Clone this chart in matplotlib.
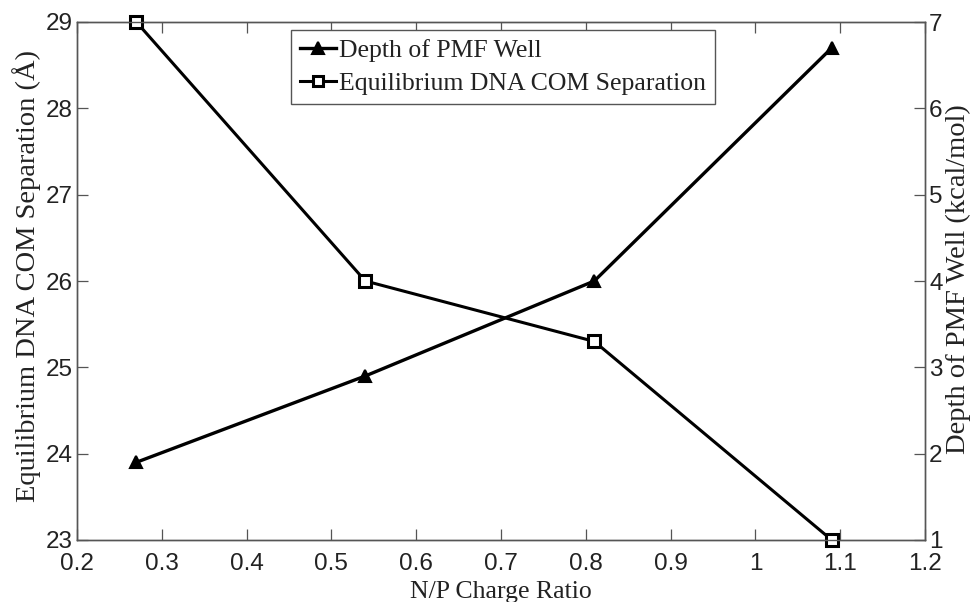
import matplotlib.pyplot as plt
import numpy as np

# N/P charge ratio vs. separation and PMF well depth
np_ratio = [0.27, 0.54, 0.81, 1.09]
separation = [29.0, 26.0, 25.3, 23.0]   # left axis, Angstrom
well_depth = [1.9, 2.9, 4.0, 6.7]      # right axis, kcal/mol

x_ticks = [0.2, 0.3, 0.4, 0.5, 0.6, 0.7, 0.8, 0.9, 1.0, 1.1, 1.2]
x_labels = ['0.2', '0.3', '0.4', '0.5', '0.6', '0.7', '0.8', '0.9', '1', '1.1', '1.2']
left_ticks = [23, 24, 25, 26, 27, 28, 29]
right_ticks = [1, 2, 3, 4, 5, 6, 7]

serif = 'Liberation Serif'
sans = 'Liberation Sans'
spine_col = '#555555'
text_col = '#222222'

fig = plt.figure(figsize=(9.71, 6.02), dpi=100)
ax = fig.add_axes([77 / 971, 62 / 602, 848 / 971, 518 / 602])
ax2 = ax.twinx()

l_sep, = ax.plot(np_ratio, separation, color='black', lw=2.2, marker='s',
                 ms=8, mfc='white', mec='black', mew=2.2,
                 label='Equilibrium DNA COM Separation', clip_on=False, zorder=3)
l_dep, = ax2.plot(np_ratio, well_depth, color='black', lw=2.4, marker='^',
                  ms=9, mfc='black', mec='black', mew=1.5,
                  label='Depth of PMF Well', clip_on=False, zorder=3)

ax.set_xlim(0.2, 1.2)
ax.set_ylim(23, 29)
ax2.set_ylim(1, 7)
ax.set_xticks(x_ticks)
ax.set_xticklabels(x_labels)
ax.set_yticks(left_ticks)
ax2.set_yticks(right_ticks)

for a in (ax, ax2):
    for s in a.spines.values():
        s.set_color(spine_col)
        s.set_linewidth(1.0)

ax.tick_params(axis='x', direction='in', top=True, length=8, width=0.9,
               color=spine_col, pad=9, labelsize=17.5, labelcolor=text_col)
ax.tick_params(axis='y', direction='in', length=8, width=0.9,
               color=spine_col, pad=3, labelsize=17.5, labelcolor=text_col)
ax2.tick_params(axis='y', direction='in', length=8, width=0.9,
                color=spine_col, pad=3, labelsize=17.5, labelcolor=text_col)
for lab in ax.get_xticklabels() + ax.get_yticklabels() + ax2.get_yticklabels():
    lab.set_family(sans)

ax.set_xlabel('N/P Charge Ratio', family=serif, fontsize=18.5, color=text_col)
ax.set_ylabel('Equilibrium DNA COM Separation (Å)', family=serif,
              fontsize=20.5, color=text_col)
ax2.set_ylabel('Depth of PMF Well (kcal/mol)', family=serif,
               fontsize=20.5, color=text_col)
ax.xaxis.set_label_coords(0.5, -0.08)
ax.yaxis.set_label_coords(-0.0425, 0.51)
ax2.yaxis.set_label_coords(1.024, 0.504)

leg = ax.legend(handles=[l_dep, l_sep], loc='upper left',
                bbox_to_anchor=(291 / 971, 1 - 30 / 602),
                bbox_transform=fig.transFigure, borderaxespad=0,
                fancybox=False, edgecolor=spine_col, framealpha=1,
                prop={'family': serif, 'size': 18.5},
                handlelength=1.4, handletextpad=0.1, labelspacing=0.4,
                borderpad=0.35, markerscale=0.9)
leg.get_frame().set_linewidth(1.0)
for t in leg.get_texts():
    t.set_color(text_col)

fig.savefig('out.png', dpi=100)
